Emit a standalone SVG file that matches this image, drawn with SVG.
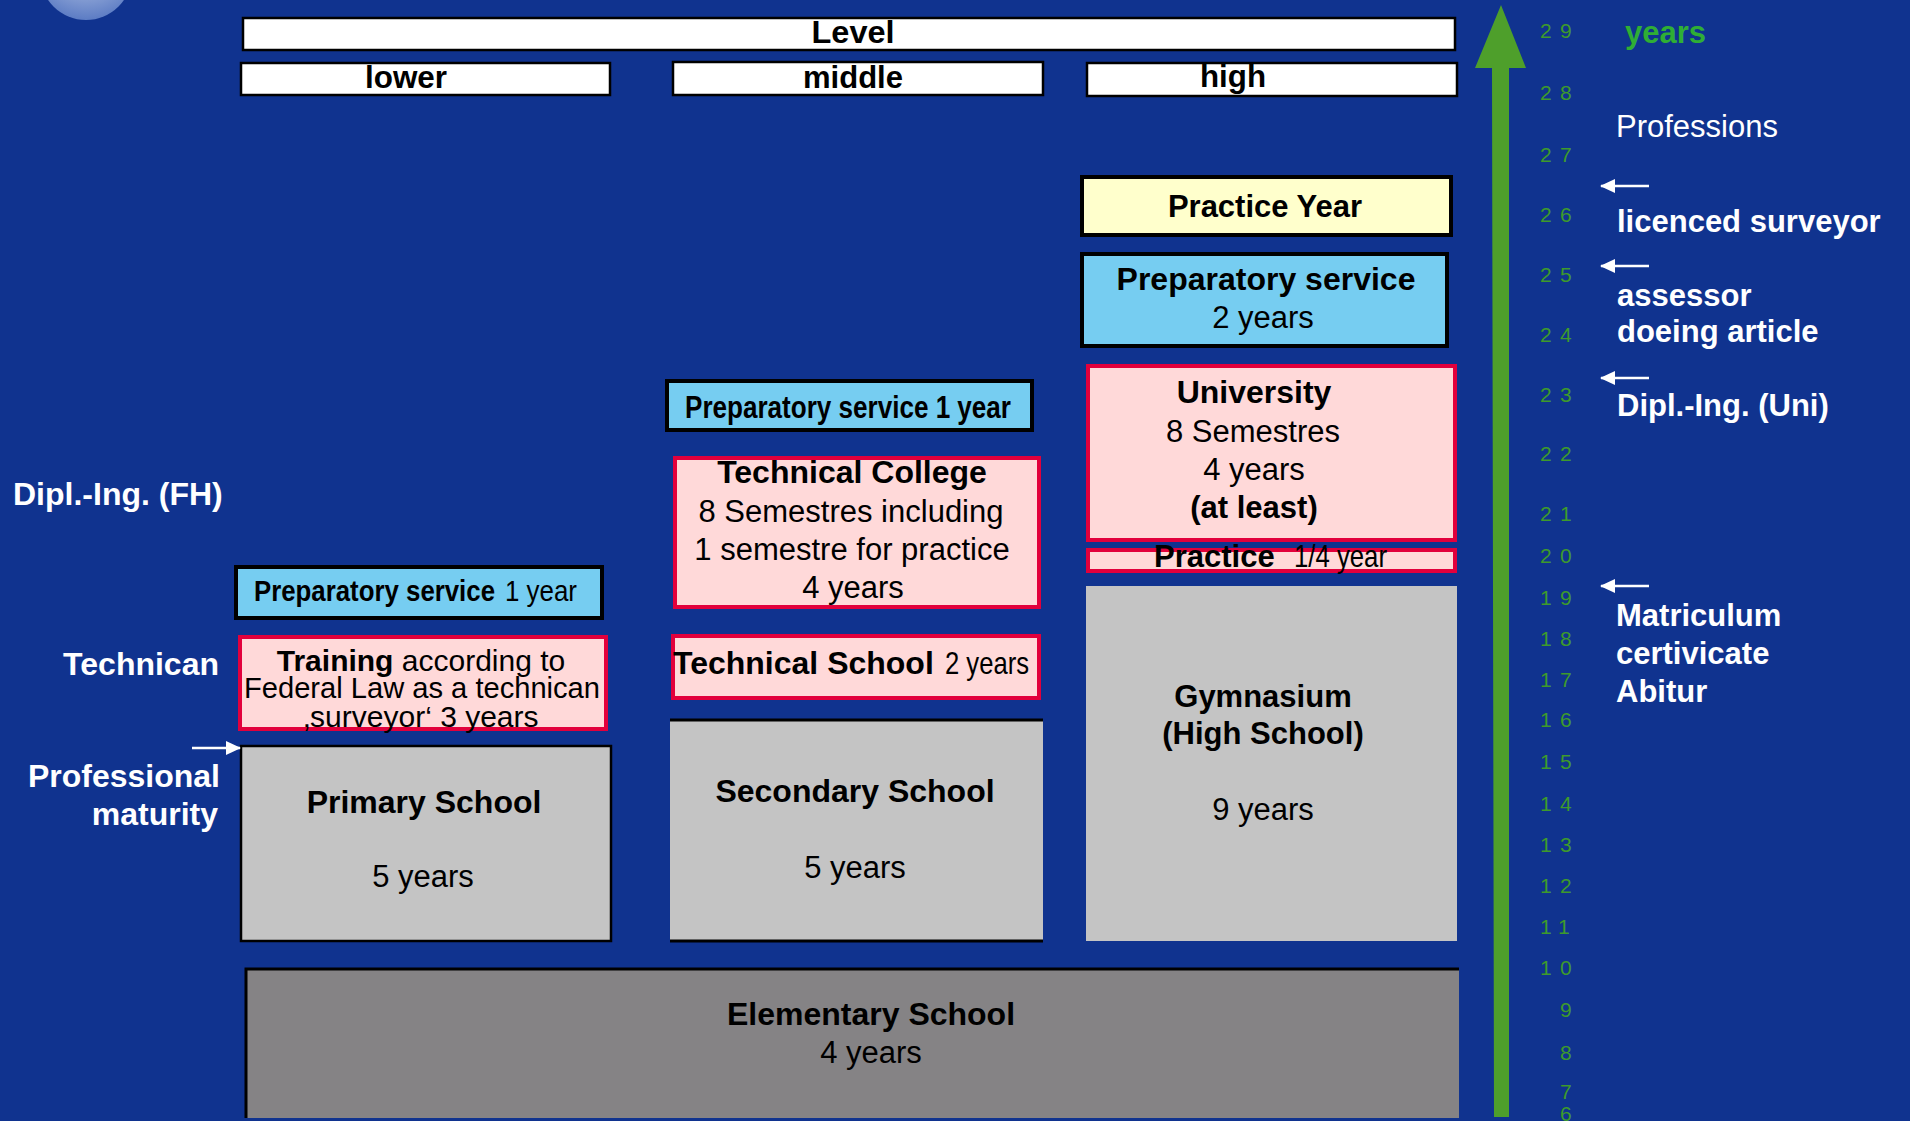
<svg xmlns="http://www.w3.org/2000/svg" width="1910" height="1121" viewBox="0 0 1910 1121">
<style>
text{font-family:"Liberation Sans",Arial,sans-serif;fill:#000}
.b{font-weight:bold}
.s31{font-size:31px}
.s32{font-size:32px}
.mid{text-anchor:middle}
.end{text-anchor:end}
.wt{fill:#fff}
.hdr{fill:#fff;stroke:#000;stroke-width:2.5}
.blue{fill:#76CDF1;stroke:#000;stroke-width:4}
.pink{fill:#FFD9D9;stroke:#E2003C;stroke-width:4}
.yellow{fill:#FFFFCC;stroke:#000;stroke-width:4}
.gray{fill:#C4C4C4}
.dgray{fill:#858385}
.edge{stroke:#000;stroke-width:3;fill:none}
.num{fill:#3E9A2C;font-size:21px}
.warrow{stroke:#fff;stroke-width:2.5;fill:none}
</style>
<defs>
<radialGradient id="globe" cx="0.5" cy="0.3" r="0.7">
<stop offset="0" stop-color="#D2DCEF"/>
<stop offset="1" stop-color="#5C7CC4"/>
</radialGradient>
<marker id="wh" markerWidth="15" markerHeight="14" refX="14" refY="7" orient="auto" markerUnits="userSpaceOnUse">
<path d="M0,0 L15,7 L0,14 Z" fill="#fff"/>
</marker>
</defs>
<rect x="0" y="0" width="1910" height="1121" fill="#10338F"/>
<circle cx="86" cy="-26" r="46" fill="url(#globe)"/>

<g id="level">
<rect class="hdr" x="243" y="18" width="1212" height="32"/>
<text class="b mid" x="853" y="43" font-size="32" textLength="83" lengthAdjust="spacingAndGlyphs">Level</text>
</g>
<g id="lower">
<rect class="hdr" x="241" y="63" width="369" height="32"/>
<text class="b mid" x="406" y="88" font-size="32" textLength="82" lengthAdjust="spacingAndGlyphs">lower</text>
</g>
<g id="middle">
<rect class="hdr" x="673" y="62" width="370" height="33"/>
<text class="b mid" x="853" y="88" font-size="32" textLength="100" lengthAdjust="spacingAndGlyphs">middle</text>
</g>
<g id="high">
<rect class="hdr" x="1087" y="63" width="370" height="33"/>
<text class="b mid" x="1233" y="87" font-size="32" textLength="66" lengthAdjust="spacingAndGlyphs">high</text>
</g>

<g id="practice-year">
<rect class="yellow" x="1082" y="177" width="369" height="58"/>
<text class="b s31 mid" x="1265" y="217">Practice Year</text>
</g>
<g id="prep-2y">
<rect class="blue" x="1082" y="254" width="365" height="92"/>
<text class="b s32 mid" x="1266" y="290">Preparatory service</text>
<text class="s31 mid" x="1263" y="328">2 years</text>
</g>
<g id="university">
<rect class="pink" x="1088" y="366" width="367" height="174"/>
<text class="b s32 mid" x="1254" y="403">University</text>
<text class="s31 mid" x="1253" y="442">8 Semestres</text>
<text class="s31 mid" x="1254" y="480">4 years</text>
<text class="b s31 mid" x="1254" y="518">(at least)</text>
</g>
<g id="practice-quarter">
<rect class="pink" x="1088" y="550" width="367" height="21"/>
<text class="b s31" x="1154" y="567">Practice</text>
<text x="1294" y="567" font-size="32" textLength="93" lengthAdjust="spacingAndGlyphs">1/4 year</text>
</g>
<g id="gymnasium">
<rect class="gray" x="1086" y="586" width="371" height="355"/>
<text class="b s31 mid" x="1263" y="707">Gymnasium</text>
<text class="b s31 mid" x="1263" y="744">(High School)</text>
<text class="s31 mid" x="1263" y="820">9 years</text>
</g>

<g id="prep-1y-middle">
<rect class="blue" x="667" y="381" width="365" height="49"/>
<text class="b" x="685" y="418" font-size="31" textLength="326" lengthAdjust="spacingAndGlyphs">Preparatory service 1 year</text>
</g>
<g id="technical-college">
<rect class="pink" x="675" y="458" width="364" height="149"/>
<text class="b s32 mid" x="852" y="483">Technical College</text>
<text class="s31 mid" x="851" y="522">8 Semestres including</text>
<text class="s31 mid" x="852" y="560">1 semestre for practice</text>
<text class="s31 mid" x="853" y="598">4 years</text>
</g>
<g id="technical-school">
<rect class="pink" x="673" y="636" width="366" height="62"/>
<text class="b s32" x="673" y="674">Technical School</text>
<text x="945" y="674" font-size="32" textLength="84" lengthAdjust="spacingAndGlyphs">2 years</text>
</g>
<g id="secondary-school">
<rect class="gray" x="670" y="719" width="373" height="223"/>
<line class="edge" x1="670" y1="720" x2="1043" y2="720"/>
<line class="edge" x1="670" y1="941" x2="1043" y2="941"/>
<text class="b s32 mid" x="855" y="802">Secondary School</text>
<text class="s31 mid" x="855" y="878">5 years</text>
</g>

<g id="prep-1y-lower">
<rect class="blue" x="236" y="567" width="366" height="51"/>
<text x="254" y="601" font-size="30"><tspan class="b" textLength="241" lengthAdjust="spacingAndGlyphs">Preparatory service</tspan><tspan x="505" textLength="72" lengthAdjust="spacingAndGlyphs">1 year</tspan></text>
</g>
<g id="training">
<rect class="pink" x="240" y="637" width="366" height="92" stroke-width="3"/>
<text class="mid" x="421" y="671" font-size="30"><tspan class="b">Training</tspan> according to</text>
<text class="mid" x="422" y="698" font-size="30" textLength="356" lengthAdjust="spacingAndGlyphs">Federal Law as a technican</text>
<text class="mid" x="421" y="727" font-size="30">‚surveyor‘ 3 years</text>
</g>
<g id="primary-school">
<rect class="gray" x="241" y="746" width="370" height="195" stroke="#000" stroke-width="2.5"/>
<text class="b s32 mid" x="424" y="813">Primary School</text>
<text class="s31 mid" x="423" y="887">5 years</text>
</g>
<g id="elementary-school">
<rect class="dgray" x="245" y="968" width="1214" height="150"/>
<path class="edge" d="M246,1118 V969 H1459" stroke-width="4"/>
<text class="b s32 mid" x="871" y="1025">Elementary School</text>
<text class="s31 mid" x="871" y="1063">4 years</text>
</g>

<g id="left-labels">
<text class="b s32 wt" x="13" y="505">Dipl.-Ing. (FH)</text>
<text class="b s32 wt end" x="219" y="675">Technican</text>
<text class="b s32 wt end" x="220" y="787">Professional</text>
<text class="b s32 wt end" x="218" y="825">maturity</text>
</g>

<g id="right-labels">
<text class="b s31" x="1625" y="43" style="fill:#2FAE35">years</text>
<text class="s31 wt" x="1616" y="137">Professions</text>
<text class="b s31 wt" x="1617" y="232">licenced surveyor</text>
<text class="b s31 wt" x="1617" y="306">assessor</text>
<text class="b s31 wt" x="1617" y="342">doeing article</text>
<text class="b s31 wt" x="1617" y="416">Dipl.-Ing. (Uni)</text>
<text class="b s31 wt" x="1616" y="626">Matriculum</text>
<text class="b s31 wt" x="1616" y="664">certivicate</text>
<text class="b s31 wt" x="1616" y="702">Abitur</text>
</g>

<g id="age-scale">
<text class="num" x="1540 1560" y="38">29</text>
<text class="num" x="1540 1560" y="100">28</text>
<text class="num" x="1540 1560" y="162">27</text>
<text class="num" x="1540 1560" y="222">26</text>
<text class="num" x="1540 1560" y="282">25</text>
<text class="num" x="1540 1560" y="342">24</text>
<text class="num" x="1540 1560" y="402">23</text>
<text class="num" x="1540 1560" y="461">22</text>
<text class="num" x="1540 1560" y="521">21</text>
<text class="num" x="1540 1560" y="563">20</text>
<text class="num" x="1540 1560" y="605">19</text>
<text class="num" x="1540 1560" y="646">18</text>
<text class="num" x="1540 1560" y="687">17</text>
<text class="num" x="1540 1560" y="727">16</text>
<text class="num" x="1540 1560" y="769">15</text>
<text class="num" x="1540 1560" y="811">14</text>
<text class="num" x="1540 1560" y="852">13</text>
<text class="num" x="1540 1560" y="893">12</text>
<text class="num" x="1540 1558" y="934">11</text>
<text class="num" x="1540 1560" y="975">10</text>
<text class="num" x="1560" y="1017">9</text>
<text class="num" x="1560" y="1060">8</text>
<text class="num" x="1560" y="1099">7</text>
<text class="num" x="1560" y="1121">6</text>
</g>

<g id="connectors">
<polygon points="1501,5 1526,68 1509,68 1509,1117 1494,1117 1492,68 1475,68" fill="#4E9F2B"/>
<line class="warrow" x1="1649" y1="186" x2="1601" y2="186" marker-end="url(#wh)"/>
<line class="warrow" x1="1649" y1="266" x2="1601" y2="266" marker-end="url(#wh)"/>
<line class="warrow" x1="1649" y1="378" x2="1601" y2="378" marker-end="url(#wh)"/>
<line class="warrow" x1="1649" y1="586" x2="1601" y2="586" marker-end="url(#wh)"/>
<line class="warrow" x1="192" y1="748" x2="240" y2="748" marker-end="url(#wh)"/>
</g>
</svg>
